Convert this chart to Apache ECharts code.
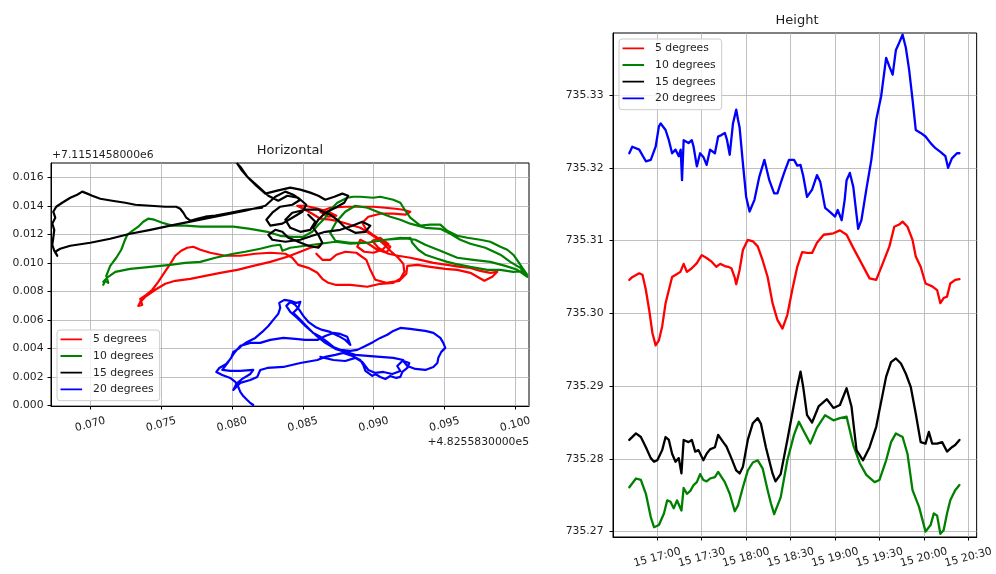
<!DOCTYPE html>
<html>
<head>
<meta charset="utf-8">
<script src="https://cdn.jsdelivr.net/npm/echarts@6/dist/echarts.min.js"></script>
<style>
html,body{margin:0;padding:0;background:#fff;}
#chart{width:996px;height:574px;}
</style>
</head>
<body>
<div id="chart"></div>
<script>
// ---------- labels ----------
const seriesNames = ['5 degrees', '10 degrees', '15 degrees', '20 degrees'];
const seriesColors = ['#ff0000', '#008000', '#000000', '#0000ff'];
const horizTitle = 'Horizontal';
const heightTitle = 'Height';
const eastOffsetText = '+4.8255830000e5';
const northOffsetText = '+7.1151458000e6';

// ---------- tick labels ----------
const eastTicks = [0.070, 0.075, 0.080, 0.085, 0.090, 0.095, 0.100];
const northTicks = [0.000, 0.002, 0.004, 0.006, 0.008, 0.010, 0.012, 0.014, 0.016];
const heightTicks = [735.27, 735.28, 735.29, 735.30, 735.31, 735.32, 735.33];
const timeTicks = ['17:00', '17:30', '18:00', '18:30', '19:00', '19:30', '20:00', '20:30'];
const dayOfMonth = '15';

// ---------- horizontal tracks: [east, north] after removing the offsets ----------
const track5 = [
[0.08624,0.01120],[0.08553,0.01106],[0.08483,0.01078],[0.08391,0.01043],[0.08271,0.01007],[0.08151,0.00979],[0.08038,0.00951],[0.07918,0.00930],[0.07812,0.00909],[0.07706,0.00888],[0.07600,0.00874],[0.07530,0.00853],[0.07459,0.00811],[0.07388,0.00761],[0.07353,0.00726],[0.07339,0.00698],[0.07367,0.00705],[0.07353,0.00747],[0.07395,0.00775],[0.07438,0.00811],[0.07480,0.00867],[0.07522,0.00930],[0.07565,0.00993],[0.07600,0.01050],[0.07642,0.01085],[0.07685,0.01106],[0.07727,0.01113],[0.07777,0.01092],[0.07847,0.01071],[0.07953,0.01050],[0.08059,0.01050],[0.08165,0.01064],[0.08271,0.01071],[0.08377,0.01064],[0.08426,0.01036],[0.08468,0.00986],[0.08539,0.00965],[0.08603,0.00930],[0.08638,0.00888],[0.08680,0.00860],[0.08730,0.00846],[0.08836,0.00846],[0.08956,0.00832],[0.09047,0.00853],[0.09139,0.00860],[0.09189,0.00888],[0.09217,0.00937],[0.09210,0.00993],[0.09174,0.01036],[0.09118,0.01085],[0.09076,0.01127],[0.09019,0.01176],[0.08963,0.01211],[0.08906,0.01246],[0.08836,0.01268],[0.08765,0.01289],[0.08694,0.01303],[0.08624,0.01310],[0.08567,0.01345],[0.08504,0.01380],[0.08461,0.01401],[0.08518,0.01401],[0.08610,0.01380],[0.08694,0.01352],[0.08737,0.01331],[0.08680,0.01324],[0.08624,0.01359],[0.08694,0.01387],[0.08800,0.01394],[0.08906,0.01394],[0.08998,0.01394],[0.09083,0.01387],[0.09153,0.01380],[0.09210,0.01373],[0.09259,0.01359],[0.09224,0.01338],[0.09139,0.01345],[0.09047,0.01345],[0.08963,0.01324],[0.08920,0.01282],[0.08949,0.01232],[0.09005,0.01190],[0.09069,0.01148],[0.09118,0.01113],[0.09090,0.01071],[0.09026,0.01092],[0.08963,0.01134],[0.08906,0.01162],[0.08885,0.01113],[0.08934,0.01078],[0.08998,0.01071],[0.09062,0.01092],[0.09104,0.01134],[0.09047,0.01176],[0.08991,0.01155],[0.09033,0.01106],[0.09104,0.01064],[0.09174,0.01050],[0.09259,0.01036],[0.09330,0.01021],[0.09422,0.01000],[0.09520,0.00986],[0.09612,0.00972],[0.09683,0.00965],[0.09753,0.00944],[0.09824,0.00930],[0.09873,0.00937],[0.09838,0.00902],[0.09782,0.00874],[0.09732,0.00902],[0.09683,0.00930],[0.09591,0.00951],[0.09506,0.00958],[0.09400,0.00972],[0.09309,0.00986],[0.09238,0.00979],[0.09231,0.00923],[0.09182,0.00874],[0.09090,0.00860],[0.09012,0.00881],[0.08977,0.00951],[0.08949,0.01021],[0.08878,0.01071],[0.08800,0.01078],[0.08737,0.01057],[0.08694,0.01021],[0.08638,0.01021],[0.08596,0.01064]
];
const track10 = [
[0.07092,0.00846],[0.07106,0.00874],[0.07127,0.00860],[0.07113,0.00909],[0.07141,0.00979],[0.07184,0.01036],[0.07219,0.01092],[0.07240,0.01148],[0.07261,0.01197],[0.07297,0.01225],[0.07339,0.01254],[0.07374,0.01289],[0.07409,0.01310],[0.07452,0.01303],[0.07508,0.01282],[0.07579,0.01261],[0.07671,0.01261],[0.07777,0.01254],[0.07883,0.01254],[0.08010,0.01254],[0.08130,0.01239],[0.08250,0.01218],[0.08341,0.01190],[0.08426,0.01183],[0.08504,0.01183],[0.08567,0.01218],[0.08610,0.01268],[0.08659,0.01317],[0.08694,0.01373],[0.08744,0.01422],[0.08814,0.01457],[0.08857,0.01464],[0.08906,0.01464],[0.08998,0.01457],[0.09047,0.01464],[0.09139,0.01443],[0.09189,0.01422],[0.09224,0.01366],[0.09259,0.01317],[0.09330,0.01261],[0.09400,0.01268],[0.09471,0.01268],[0.09520,0.01225],[0.09591,0.01190],[0.09662,0.01176],[0.09753,0.01162],[0.09824,0.01148],[0.09895,0.01113],[0.09944,0.01092],[0.09986,0.01057],[0.10022,0.01007],[0.10050,0.00965],[0.10085,0.00916],[0.10064,0.00944],[0.09986,0.00937],[0.09895,0.00951],[0.09803,0.00951],[0.09683,0.00972],[0.09577,0.00993],[0.09520,0.01007],[0.09450,0.01029],[0.09365,0.01057],[0.09316,0.01092],[0.09273,0.01141],[0.09259,0.01176],[0.09189,0.01169],[0.09083,0.01162],[0.08956,0.01141],[0.08836,0.01141],[0.08730,0.01155],[0.08694,0.01211],[0.08737,0.01289],[0.08800,0.01359],[0.08871,0.01401],[0.08956,0.01387],[0.09026,0.01359],[0.09118,0.01324],[0.09189,0.01303],[0.09259,0.01275],[0.09365,0.01246],[0.09471,0.01239],[0.09542,0.01204],[0.09612,0.01162],[0.09683,0.01134],[0.09789,0.01106],[0.09895,0.01057],[0.09965,0.01007],[0.10036,0.00965],[0.10085,0.00902],[0.10015,0.00951],[0.09930,0.00979],[0.09824,0.01007],[0.09704,0.01021],[0.09591,0.01036],[0.09471,0.01085],[0.09365,0.01127],[0.09295,0.01162],[0.09189,0.01176],[0.09083,0.01162],[0.08956,0.01141],[0.08836,0.01134],[0.08730,0.01148],[0.08624,0.01134],[0.08518,0.01120],[0.08412,0.01106],[0.08356,0.01085],[0.08341,0.01127],[0.08285,0.01120],[0.08200,0.01099],[0.08094,0.01078],[0.08010,0.01064],[0.07883,0.01036],[0.07777,0.01007],[0.07671,0.01000],[0.07565,0.00986],[0.07424,0.00972],[0.07282,0.00958],[0.07177,0.00937],[0.07127,0.00902],[0.07092,0.00867]
];
const track15 = [
[0.08214,0.01387],[0.08094,0.01373],[0.07988,0.01352],[0.07883,0.01331],[0.07812,0.01324],[0.07755,0.01310],[0.07706,0.01296],[0.07678,0.01317],[0.07657,0.01352],[0.07635,0.01380],[0.07607,0.01394],[0.07530,0.01394],[0.07424,0.01401],[0.07318,0.01408],[0.07247,0.01422],[0.07155,0.01436],[0.07071,0.01450],[0.07014,0.01471],[0.06979,0.01486],[0.06944,0.01500],[0.06908,0.01478],[0.06859,0.01457],[0.06802,0.01422],[0.06760,0.01394],[0.06739,0.01359],[0.06753,0.01317],[0.06732,0.01275],[0.06746,0.01232],[0.06739,0.01176],[0.06732,0.01127],[0.06746,0.01085],[0.06767,0.01050],[0.06753,0.01078],[0.06788,0.01099],[0.06859,0.01120],[0.07000,0.01141],[0.07141,0.01169],[0.07282,0.01204],[0.07424,0.01232],[0.07565,0.01261],[0.07741,0.01296],[0.07918,0.01331],[0.08094,0.01366],[0.08236,0.01401],[0.08306,0.01464],[0.08377,0.01500],[0.08433,0.01478],[0.08483,0.01443],[0.08426,0.01408],[0.08341,0.01394],[0.08285,0.01352],[0.08243,0.01303],[0.08271,0.01261],[0.08356,0.01275],[0.08426,0.01317],[0.08497,0.01359],[0.08525,0.01408],[0.08468,0.01457],[0.08391,0.01471],[0.08327,0.01436],[0.08257,0.01471],[0.08186,0.01535],[0.08115,0.01598],[0.08066,0.01654],[0.08038,0.01696],[0.08059,0.01675],[0.08108,0.01605],[0.08172,0.01542],[0.08236,0.01486],[0.08320,0.01507],[0.08412,0.01528],[0.08483,0.01514],[0.08553,0.01493],[0.08610,0.01471],[0.08659,0.01443],[0.08723,0.01464],[0.08779,0.01486],[0.08821,0.01471],[0.08793,0.01422],[0.08730,0.01387],[0.08659,0.01352],[0.08610,0.01303],[0.08574,0.01246],[0.08610,0.01197],[0.08638,0.01141],[0.08610,0.01106],[0.08539,0.01120],[0.08468,0.01148],[0.08398,0.01176],[0.08356,0.01218],[0.08306,0.01232],[0.08257,0.01197],[0.08285,0.01162],[0.08377,0.01148],[0.08483,0.01162],[0.08567,0.01190],[0.08659,0.01218],[0.08765,0.01232],[0.08850,0.01261],[0.08920,0.01289],[0.08977,0.01261],[0.08942,0.01218],[0.08871,0.01211],[0.08800,0.01246],[0.08751,0.01296],[0.08694,0.01338],[0.08610,0.01373],[0.08518,0.01373],[0.08426,0.01352],[0.08377,0.01303],[0.08412,0.01246],[0.08483,0.01218],[0.08553,0.01232],[0.08589,0.01289],[0.08539,0.01338]
];
const track20 = [
[0.08151,0.00002],[0.08130,0.00016],[0.08108,0.00037],[0.08080,0.00065],[0.08059,0.00094],[0.08045,0.00129],[0.08024,0.00164],[0.07988,0.00192],[0.07932,0.00213],[0.07890,0.00234],[0.07911,0.00262],[0.07960,0.00290],[0.07995,0.00333],[0.08010,0.00375],[0.08045,0.00396],[0.08066,0.00417],[0.08108,0.00445],[0.08165,0.00473],[0.08214,0.00515],[0.08257,0.00557],[0.08292,0.00600],[0.08327,0.00642],[0.08341,0.00684],[0.08334,0.00719],[0.08370,0.00740],[0.08412,0.00733],[0.08454,0.00719],[0.08483,0.00726],[0.08468,0.00684],[0.08433,0.00649],[0.08483,0.00600],[0.08532,0.00550],[0.08574,0.00508],[0.08624,0.00481],[0.08673,0.00445],[0.08716,0.00410],[0.08765,0.00389],[0.08836,0.00382],[0.08885,0.00389],[0.08942,0.00417],[0.08998,0.00445],[0.09047,0.00473],[0.09097,0.00495],[0.09139,0.00522],[0.09189,0.00543],[0.09259,0.00536],[0.09309,0.00529],[0.09365,0.00522],[0.09422,0.00508],[0.09471,0.00473],[0.09492,0.00438],[0.09506,0.00403],[0.09478,0.00375],[0.09457,0.00333],[0.09450,0.00297],[0.09422,0.00269],[0.09365,0.00248],[0.09295,0.00255],[0.09238,0.00276],[0.09210,0.00311],[0.09252,0.00297],[0.09238,0.00262],[0.09203,0.00234],[0.09189,0.00199],[0.09160,0.00192],[0.09118,0.00206],[0.09083,0.00185],[0.09047,0.00199],[0.09012,0.00220],[0.08991,0.00206],[0.08942,0.00241],[0.08927,0.00283],[0.08906,0.00318],[0.08850,0.00347],[0.08786,0.00368],[0.08730,0.00354],[0.08659,0.00340],[0.08603,0.00318],[0.08483,0.00297],[0.08363,0.00269],[0.08250,0.00262],[0.08200,0.00248],[0.08179,0.00199],[0.08130,0.00178],[0.08059,0.00157],[0.08010,0.00108],[0.08031,0.00150],[0.08073,0.00185],[0.08130,0.00220],[0.08151,0.00248],[0.08059,0.00241],[0.07988,0.00241],[0.07932,0.00248],[0.07974,0.00304],[0.08017,0.00368],[0.08059,0.00417],[0.08130,0.00438],[0.08200,0.00438],[0.08271,0.00459],[0.08363,0.00473],[0.08447,0.00466],[0.08518,0.00459],[0.08603,0.00459],[0.08659,0.00487],[0.08716,0.00508],[0.08765,0.00501],[0.08814,0.00481],[0.08836,0.00424],[0.08800,0.00459],[0.08751,0.00487],[0.08694,0.00515],[0.08638,0.00529],[0.08589,0.00550],[0.08539,0.00586],[0.08504,0.00628],[0.08476,0.00670],[0.08447,0.00705],[0.08412,0.00726],[0.08384,0.00698],[0.08412,0.00656],[0.08461,0.00613],[0.08518,0.00557],[0.08589,0.00495],[0.08659,0.00438],[0.08730,0.00396],[0.08800,0.00375],[0.08871,0.00354],[0.08956,0.00347],[0.09047,0.00340],[0.09139,0.00333],[0.09210,0.00318],[0.09167,0.00276],[0.09189,0.00241],[0.09132,0.00220],[0.09069,0.00234],[0.09012,0.00227],[0.08963,0.00248],[0.08920,0.00304],[0.08871,0.00333],[0.08800,0.00311],[0.08716,0.00318],[0.08624,0.00340]
];

// ---------- height series: [minutes after 16:00, height] ----------
const height5 = [
[41.1,735.3046],[43.3,735.3050],[47.8,735.3055],[50,735.3053],[52.3,735.3032],[54.5,735.3005],[56.7,735.2973],[58.9,735.2956],[61.1,735.2963],[63.3,735.2982],[65.6,735.3014],[67.8,735.3032],[70,735.3050],[73.3,735.3054],[75.6,735.3057],[77.8,735.3068],[80,735.3057],[83.3,735.3062],[86.7,735.3069],[90,735.3080],[93.3,735.3076],[96.7,735.3071],[99.8,735.3064],[102.5,735.3068],[105.6,735.3065],[107.8,735.3064],[110,735.3062],[112.3,735.3049],[113.3,735.3040],[115.6,735.3060],[117.8,735.3087],[121.1,735.3101],[124.5,735.3099],[127.8,735.3092],[131.1,735.3073],[134.5,735.3050],[137.8,735.3014],[141.1,735.2991],[144.5,735.2979],[147.8,735.2998],[151.1,735.3032],[154.5,735.3064],[157.8,735.3084],[161.1,735.3083],[164.5,735.3083],[167.8,735.3097],[172.3,735.3108],[178.9,735.3110],[183.3,735.3114],[187.8,735.3108],[192.3,735.3090],[197.8,735.3069],[203.3,735.3048],[207.8,735.3046],[212.3,735.3069],[216.7,735.3092],[220,735.3119],[223.3,735.3122],[225.6,735.3126],[228.9,735.3119],[232.3,735.3101],[234.5,735.3078],[237.8,735.3064],[241.1,735.3041],[245.6,735.3037],[248.9,735.3032],[251.1,735.3014],[253.3,735.3021],[255.6,735.3023],[257.8,735.3041],[261.1,735.3046],[264,735.3047]
];
const height10 = [
[41.1,735.2761],[45.6,735.2773],[48.9,735.2771],[52.3,735.2752],[55.6,735.2720],[57.8,735.2706],[61.1,735.2709],[64.5,735.2725],[66.7,735.2743],[68.9,735.2741],[71.1,735.2732],[73.3,735.2743],[74.5,735.2743],[76.3,735.2729],[77.8,735.2760],[80,735.2752],[82.3,735.2756],[84.5,735.2764],[86.7,735.2768],[88.9,735.2779],[91.1,735.2771],[93.3,735.2769],[95.6,735.2773],[98.9,735.2775],[101.1,735.2782],[105.6,735.2768],[108.9,735.2752],[112.3,735.2728],[114.5,735.2736],[117.8,735.2761],[121.1,735.2784],[124.5,735.2795],[127.8,735.2798],[131.1,735.2787],[134.5,735.2757],[136.7,735.2739],[138.9,735.2724],[143.3,735.2747],[147.8,735.2798],[152.3,735.2833],[155.6,735.2851],[158.9,735.2838],[163.3,735.2821],[167.8,735.2843],[173.3,735.2860],[178.9,735.2853],[183.3,735.2856],[187.8,735.2858],[192.3,735.2819],[196.7,735.2794],[201.1,735.2778],[206.7,735.2768],[210,735.2771],[214.5,735.2798],[217.8,735.2823],[221.1,735.2835],[225.6,735.2830],[228.9,735.2807],[232.3,735.2757],[236.7,735.2734],[241.1,735.2700],[244.5,735.2709],[246.7,735.2725],[248.9,735.2722],[251.1,735.2697],[253.3,735.2702],[255.6,735.2725],[257.8,735.2743],[261.1,735.2757],[264,735.2764]
];
const height15 = [
[41.1,735.2826],[45.6,735.2835],[48.9,735.2830],[52.3,735.2816],[55.6,735.2801],[57.8,735.2796],[60,735.2798],[63.3,735.2812],[65.6,735.2830],[67.8,735.2826],[70,735.2807],[72.3,735.2796],[74.5,735.2801],[76.3,735.2780],[77.8,735.2826],[81.1,735.2823],[83.3,735.2826],[85.6,735.2810],[87.8,735.2812],[91.1,735.2798],[93.3,735.2807],[95.6,735.2813],[98.9,735.2816],[101.1,735.2833],[104.5,735.2823],[106.7,735.2817],[110,735.2801],[113.3,735.2784],[115.6,735.2780],[117.8,735.2789],[121.1,735.2826],[124.5,735.2849],[127.8,735.2856],[130,735.2848],[133.3,735.2816],[137.8,735.2780],[139.8,735.2769],[143.3,735.2779],[147.8,735.2826],[151.1,735.2862],[154.5,735.2899],[156.7,735.2920],[158.5,735.2899],[161.1,735.2860],[164.5,735.2850],[168.9,735.2872],[174.5,735.2882],[178.9,735.2870],[183.3,735.2874],[187.8,735.2897],[191.1,735.2872],[194.5,735.2812],[198.9,735.2798],[203.3,735.2816],[207.8,735.2844],[210,735.2867],[214.5,735.2913],[217.8,735.2933],[221.1,735.2938],[224.5,735.2931],[227.8,735.2917],[231.1,735.2899],[234.5,735.2862],[237.8,735.2823],[241.1,735.2821],[243.3,735.2837],[245.6,735.2821],[248.9,735.2821],[252.3,735.2823],[255.6,735.2810],[258.9,735.2816],[261.1,735.2819],[264,735.2826]
];
const height20 = [
[41.1,735.3220],[43.1,735.3229],[47.8,735.3225],[52.3,735.3209],[55.6,735.3211],[58.9,735.3229],[61.1,735.3257],[62.3,735.3261],[65.6,735.3252],[67.8,735.3238],[70,735.3220],[72.3,735.3225],[74.5,735.3216],[75.8,735.3225],[76.7,735.3183],[77.8,735.3238],[81.1,735.3234],[83.3,735.3238],[84.5,735.3229],[86.7,735.3202],[88.9,735.3220],[91.1,735.3215],[93.3,735.3204],[95.6,735.3225],[98.9,735.3220],[101.1,735.3243],[103.3,735.3245],[105.6,735.3248],[107.1,735.3238],[108.9,735.3218],[111.1,735.3261],[113.3,735.3280],[114.5,735.3266],[115.6,735.3255],[117.8,735.3206],[120,735.3160],[122.3,735.3140],[125.6,735.3156],[128.9,735.3188],[132.3,735.3211],[135.6,735.3183],[138.9,735.3165],[141.1,735.3165],[143.3,735.3179],[145.8,735.3194],[148.9,735.3211],[152.3,735.3211],[154.5,735.3203],[156.7,735.3204],[158.5,735.3189],[161.1,735.3160],[164.5,735.3170],[167.8,735.3190],[170,735.3181],[173.3,735.3145],[176.7,735.3139],[180,735.3133],[181.8,735.3142],[184.5,735.3128],[186.5,735.3156],[187.8,735.3183],[190,735.3193],[192.3,735.3174],[195.6,735.3116],[197.8,735.3128],[201.1,735.3170],[204.5,735.3211],[207.8,735.3266],[211.1,735.3298],[214.5,735.3351],[216.7,735.3339],[218.9,735.3328],[221.1,735.3362],[223.3,735.3372],[225.6,735.3383],[227.8,735.3365],[230,735.3335],[232.3,735.3294],[234.5,735.3252],[237.8,735.3248],[241.1,735.3243],[244.5,735.3234],[247.8,735.3227],[251.1,735.3222],[254.5,735.3216],[256.3,735.3200],[258.9,735.3213],[262.3,735.3220],[264,735.3220]
];

const horizTracks = [track5, track10, track15, track20];
const heightSeries = [height5, height10, height15, height20];

// ---------- helpers ----------
const FONT = 'DejaVu Sans';
const INK = '#1e1e1e';
const GRID_COLOR = '#b0b0b0';

function clockToMinutes(s) {
  const p = s.split(':');
  return (Number(p[0]) - 16) * 60 + Number(p[1]);
}
function minutesToClock(v) {
  const total = Math.round(v);
  const h = 16 + Math.floor(total / 60);
  const m = total % 60;
  return dayOfMonth + ' ' + String(h).padStart(2, '0') + ':' + String(m).padStart(2, '0');
}
const timeTickValues = timeTicks.map(clockToMinutes);

function valueAxis(opts) {
  return Object.assign({
    type: 'value',
    scale: true,
    axisLine: { show: true, onZero: false, lineStyle: { color: '#000', width: 1 } },
    axisTick: { show: true, inside: false, length: 3.5, customValues: opts.ticks, lineStyle: { color: '#000', width: 1 } },
    axisLabel: Object.assign({
      customValues: opts.ticks,
      fontFamily: FONT, fontSize: 10.8, color: INK
    }, opts.label),
    splitLine: { show: true, lineStyle: { color: GRID_COLOR, width: 0.8 } }
  }, opts.axis);
}

const legendBase = {
  orient: 'vertical',
  data: seriesNames,
  icon: 'path://M0,0H24V2H0Z M29,0V2',
  itemWidth: 29,
  itemHeight: 1.8,
  itemGap: 4.7,
  padding: [3.3, 6, 5.3, 3.5],
  backgroundColor: 'rgba(255,255,255,0.8)',
  borderColor: '#cccccc',
  borderWidth: 1,
  borderRadius: 3,
  itemStyle: { borderWidth: 0 },
  selectedMode: false,
  textStyle: { fontFamily: FONT, fontSize: 10.8, color: INK, lineHeight: 12 }
};

function lineSeries(name, color, data, axisIndex, width) {
  return {
    name: name, type: 'line', xAxisIndex: axisIndex, yAxisIndex: axisIndex,
    data: data, symbol: 'none', showSymbol: false, clip: true,
    color: color,
    lineStyle: { width: width, color: color, join: 'round', cap: 'round' }
  };
}

const series = [];
horizTracks.forEach((d, i) => series.push(lineSeries(seriesNames[i], seriesColors[i], d, 0, 2.2)));
heightSeries.forEach((d, i) => series.push(lineSeries(seriesNames[i], seriesColors[i], d, 1, 2.3)));

const option = {
  animation: false,
  backgroundColor: '#ffffff',
  grid: [
    { left: 51, top: 163, width: 478, height: 243, show: true, borderColor: '#000', borderWidth: 1, backgroundColor: 'transparent' },
    { left: 613, top: 33, width: 369, height: 504, show: true, borderColor: '#000', borderWidth: 1, backgroundColor: 'transparent' }
  ],
  xAxis: [
    valueAxis({ ticks: eastTicks,
      axis: { gridIndex: 0, min: 0.06723, max: 0.10097 },
      label: { formatter: v => v.toFixed(3), rotate: 15, align: 'center', verticalAlign: 'middle', margin: 18.5 } }),
    valueAxis({ ticks: timeTickValues,
      axis: { gridIndex: 1, min: 30.1, max: 275.6 },
      label: { formatter: v => minutesToClock(v), rotate: 15, align: 'center', verticalAlign: 'middle', margin: 20.5 } })
  ],
  yAxis: [
    valueAxis({ ticks: northTicks,
      axis: { gridIndex: 0, min: -0.00005, max: 0.01701 },
      label: { formatter: v => v.toFixed(3), margin: 7.5 } }),
    valueAxis({ ticks: heightTicks,
      axis: { gridIndex: 1, min: 735.26926, max: 735.33853 },
      label: { formatter: v => v.toFixed(2), margin: 9.5 } })
  ],
  legend: [
    Object.assign({}, legendBase, { left: 57, top: 330 }),
    Object.assign({}, legendBase, { left: 619, top: 39 })
  ],
  graphic: [
    { type: 'text', x: 290, y: 151, style: { text: horizTitle, fill: INK, fontFamily: FONT, fontSize: 13, align: 'center', verticalAlign: 'middle' } },
    { type: 'text', x: 797, y: 21, style: { text: heightTitle, fill: INK, fontFamily: FONT, fontSize: 13, align: 'center', verticalAlign: 'middle' } },
    { type: 'text', x: 52, y: 155, style: { text: northOffsetText, fill: INK, fontFamily: FONT, fontSize: 10.8, align: 'left', verticalAlign: 'middle' } },
    { type: 'text', x: 529, y: 442, style: { text: eastOffsetText, fill: INK, fontFamily: FONT, fontSize: 10.8, align: 'right', verticalAlign: 'middle' } }
  ],
  series: series
};

const chart = echarts.init(document.getElementById('chart'), null, { renderer: 'canvas' });
chart.setOption(option);
</script>
</body>
</html>
